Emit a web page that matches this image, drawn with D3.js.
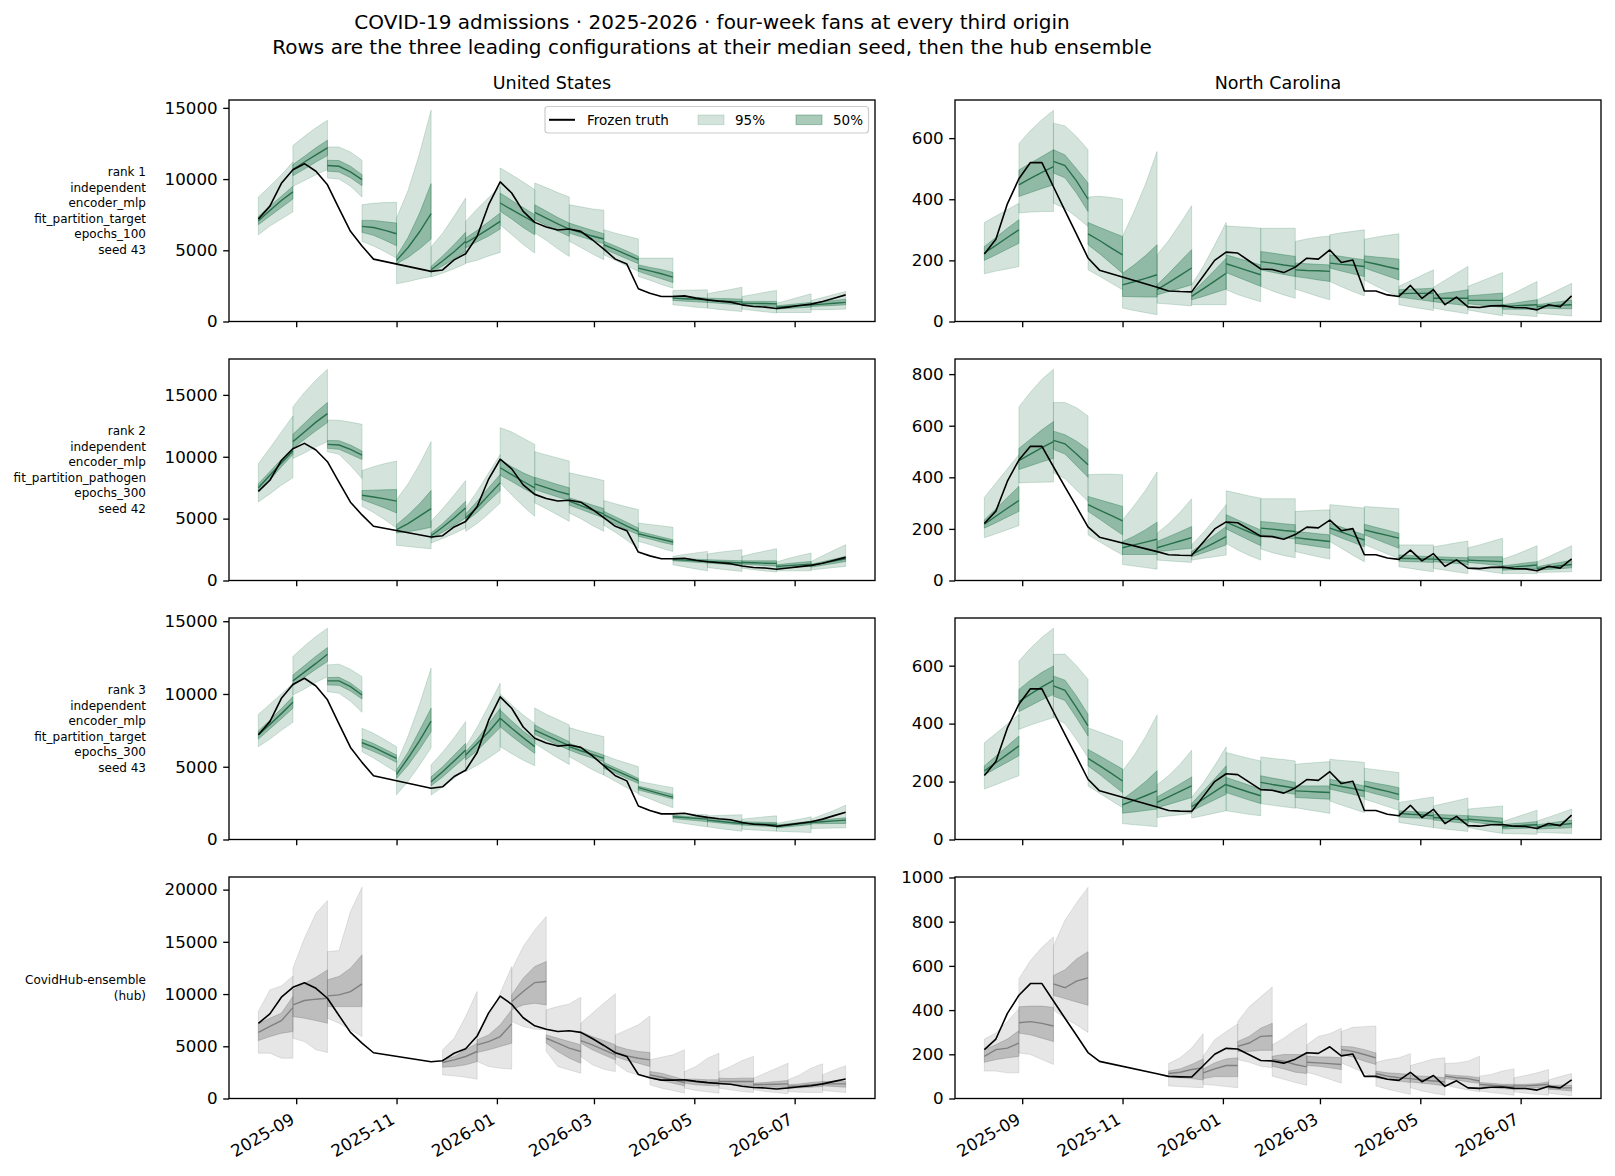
<!DOCTYPE html>
<html><head><meta charset="utf-8">
<script src="https://cdn.jsdelivr.net/npm/d3@7"></script>
<style>body{margin:0;background:#fff} svg text{font-family:"DejaVu Sans",sans-serif}</style>
</head><body><svg id="c" width="1615" height="1176"></svg>
<script>
// ---------- data ----------
const weeks = ["2025-08-09","2025-08-16","2025-08-23","2025-08-30","2025-09-06","2025-09-13","2025-09-20","2025-09-27","2025-10-04","2025-10-11","2025-10-18","2025-10-25","2025-11-01","2025-11-08","2025-11-15","2025-11-22","2025-11-29","2025-12-06","2025-12-13","2025-12-20","2025-12-27","2026-01-03","2026-01-10","2026-01-17","2026-01-24","2026-01-31","2026-02-07","2026-02-14","2026-02-21","2026-02-28","2026-03-07","2026-03-14","2026-03-21","2026-03-28","2026-04-04","2026-04-11","2026-04-18","2026-04-25","2026-05-02","2026-05-09","2026-05-16","2026-05-23","2026-05-30","2026-06-06","2026-06-13","2026-06-20","2026-06-27","2026-07-04","2026-07-11","2026-07-18","2026-07-25","2026-08-01"];
const truthUS = [7200,8100,9700,10650,11080,10550,9600,7950,6330,5300,4380,null,null,null,null,3520,3620,4330,4760,5980,8200,9800,9020,7730,6960,6630,6420,6490,6330,5740,5080,4380,4030,2300,1990,1760,1760,1800,1640,1520,1430,1360,1170,1050,1010,915,1010,1120,1220,1400,1640,1870];
const truthNC = [221,269,385,467,520,520,441,363,286,208,168,null,null,null,null,112,100,98,97,148,200,227,224,198,172,170,160,178,207,204,234,193,201,100,100,87,82,118,76,104,55,80,48,46,51,52,46,45,38,55,48,84];

// each fan: [origin week index, lo95[], lo50[], median[], hi50[], hi95[]] (weekly horizons)
const fansUS1 = [
[0,[6090,6700,7200,7700],[6800,7400,8000,8600],[7080,7800,8500,9100],[7380,8100,8800,9500],[8740,9500,10300,11200]],
[3,[9490,9900,10300,10670],[10240,10700,11200,11650],[10670,11200,11700,12190],[11020,11600,12200,12730],[12350,13000,13600,14130]],
[6,[10080,10000,9500,8740],[10550,10500,10100,9540],[10950,10900,10500,9960],[11320,11300,10900,10310],[12260,12250,11900,11320]],
[9,[5630,5300,4900,4450],[6260,6050,5700,5320],[6680,6600,6400,6160],[7100,7100,7000,6910],[8200,8300,8350,8370]],
[12,[2650,2800,3000,3160],[4060,4500,5100,5790],[4290,5200,6300,7570],[4570,5900,7600,9680],[7270,9200,11800,14840]],
[15,[3120,3400,3700,4060],[3450,3900,4400,4920],[3630,4250,4900,5630],[3870,4600,5400,6260],[5230,6200,7400,8670]],
[18,[4100,4300,4600,4850],[5160,5600,6000,6490],[5510,6000,6500,7030],[5860,6400,7000,7620],[7030,7900,8700,9490]],
[21,[6800,6100,5400,4810],[7740,7200,6600,6090],[8320,7850,7400,6960],[9020,8500,8000,7500],[10780,10300,9800,9260]],
[24,[6210,5700,5100,4570],[7150,6750,6350,5980],[7660,7250,6850,6490],[8200,7750,7300,6910],[9730,9400,9050,8740]],
[27,[5630,5200,4750,4340],[6210,5950,5700,5460],[6490,6250,6000,5790],[6910,6650,6400,6160],[8200,8050,7900,7810]],
[30,[4690,4300,3900,3520],[5090,4750,4400,4060],[5390,5050,4700,4340],[5630,5300,4950,4570],[6450,6200,6000,5790]],
[33,[3160,2900,2600,2340],[3520,3250,3000,2740],[3750,3550,3350,3120],[3980,3800,3650,3450],[4450,4450,4450,4450]],
[36,[1170,1100,1000,940],[1480,1430,1380,1340],[1640,1600,1560,1520],[1800,1750,1700,1640],[2180,2200,2210,2230]],
[39,[940,850,770,700],[1340,1280,1220,1170],[1480,1450,1410,1380],[1640,1620,1600,1570],[1950,2100,2250,2410]],
[42,[870,770,680,590],[1170,1130,1090,1050],[1290,1270,1260,1240],[1410,1410,1410,1410],[1760,1900,2050,2180]],
[45,[630,630,630,630],[870,920,960,1010],[1010,1060,1120,1170],[1100,1180,1260,1340],[1290,1500,1720,1950]],
[48,[820,830,850,870],[1050,1090,1130,1170],[1170,1220,1280,1340],[1290,1380,1480,1570],[1480,1680,1900,2110]]
];
const fansUS2 = [
[0,[6350,7000,7700,8300],[7160,8100,9200,10190],[7490,8500,9500,10460],[7810,8800,9800,10730],[9430,10700,12000,13300]],
[3,[9860,10300,10800,11220],[10680,11400,12100,12760],[11220,12000,12800,13490],[11810,12700,13600,14380],[14030,15200,16200,17080]],
[6,[10400,10200,9300,8240],[10680,10600,10200,9780],[11000,10950,10600,10140],[11320,11300,10950,10460],[12970,12950,12800,12620]],
[9,[6000,5500,4900,4240],[6540,6200,5850,5460],[6890,6750,6600,6410],[7270,7300,7330,7350],[8890,9200,9450,9650]],
[12,[2840,2750,2650,2570],[3840,3950,4100,4300],[4110,4600,5200,5810],[4510,5300,6200,7270],[6540,7800,9400,11220]],
[15,[3030,3400,3800,4240],[3380,3900,4450,5050],[3620,4300,5050,5860],[3840,4600,5500,6410],[4780,5800,6900,8080]],
[18,[3970,4600,5400,6270],[4780,5500,6400,7270],[5050,5900,6900,7890],[5380,6400,7500,8570],[5860,7200,8700,10190]],
[21,[7890,6900,6000,5190],[8510,8000,7450,6950],[9110,8550,8000,7490],[9780,9200,8700,8300],[12350,12000,11500,11000]],
[24,[6270,5800,5300,4780],[7350,7050,6750,6460],[7810,7500,7200,6950],[8350,8050,7750,7490],[10410,10150,9900,9650]],
[27,[5460,5000,4450,3970],[6080,5750,5400,5050],[6410,6050,5700,5380],[6680,6400,6100,5810],[8700,8500,8300,8080]],
[30,[4460,3900,3250,2620],[5000,4550,4100,3700],[5320,4850,4400,3970],[5590,5150,4700,4240],[6460,6200,5950,5730]],
[33,[3160,2900,2600,2350],[3570,3350,3100,2890],[3780,3550,3330,3110],[3970,3750,3520,3300],[4650,4530,4420,4300]],
[36,[1270,1100,930,780],[1590,1530,1470,1410],[1700,1650,1600,1540],[1810,1770,1720,1680],[1950,2100,2230,2350]],
[39,[1050,930,830,730],[1410,1350,1280,1220],[1540,1500,1450,1410],[1680,1650,1620,1590],[2140,2280,2390,2490]],
[42,[1000,870,770,680],[1320,1270,1210,1160],[1460,1430,1400,1380],[1590,1590,1590,1590],[1950,2180,2380,2570]],
[45,[780,780,780,780],[1000,1050,1100,1140],[1140,1200,1260,1320],[1270,1370,1460,1540],[1490,1780,2010,2220]],
[48,[860,950,1050,1140],[1080,1230,1380,1540],[1220,1400,1580,1760],[1320,1520,1730,1950],[1540,2000,2450,2890]]
];
const fansUS3 = [
[0,[6380,6900,7500,8050],[6900,7600,8300,9020],[7180,7900,8650,9430],[7460,8200,9000,9820],[8600,9300,10000,10740]],
[3,[9930,10350,10800,11190],[10580,11150,11700,12230],[10900,11500,12100,12730],[11310,11950,12600,13190],[12570,13300,13950,14520]],
[6,[10160,10050,9500,8740],[10620,10600,10200,9660],[10900,10900,10500,9930],[11130,11150,10750,10160],[12000,12050,11700,11190]],
[9,[6030,5600,5100,4630],[6380,6050,5700,5300],[6650,6350,5950,5570],[6900,6600,6200,5800],[7640,7300,6850,6380]],
[12,[3070,4000,5100,6310],[4200,5100,6200,7410],[4470,5600,6800,8140],[4770,6000,7500,9020],[5230,7100,9300,11770]],
[15,[3050,3600,4200,4890],[3690,4300,5000,5690],[3970,4650,5400,6150],[4310,5000,5800,6610],[5120,6000,7000,8100]],
[18,[4660,5100,5600,6150],[5460,6100,6900,7690],[5800,6600,7400,8330],[6030,6900,7950,9020],[6380,7700,9200,10740]],
[21,[6380,5900,5450,5070],[7750,7100,6500,5920],[8330,7650,7000,6380],[8900,8150,7450,6840],[10000,9250,8550,7980]],
[24,[6610,6100,5600,5160],[7230,6850,6500,6150],[7520,7150,6800,6450],[7870,7450,7100,6720],[9040,8600,8250,7870]],
[27,[5690,5250,4800,4430],[6150,5850,5600,5350],[6380,6100,5850,5570],[6610,6330,6060,5800],[7690,7450,7250,7070]],
[30,[4430,4000,3550,3170],[4890,4550,4200,3850],[5120,4750,4400,4040],[5300,4930,4580,4200],[5800,5500,5250,5000]],
[33,[3100,2800,2480,2180],[3400,3200,3000,2780],[3560,3340,3120,2910],[3670,3480,3290,3100],[4010,3850,3700,3560]],
[36,[1220,1100,980,870],[1450,1370,1300,1220],[1560,1510,1450,1400],[1670,1600,1530,1470],[1790,1760,1730,1700]],
[39,[870,760,660,570],[1220,1140,1060,990],[1330,1250,1170,1100],[1450,1380,1320,1260],[1630,1650,1680,1700]],
[42,[710,660,610,570],[990,950,910,870],[1100,1080,1050,1030],[1220,1200,1180,1170],[1400,1480,1560,1630]],
[45,[570,540,510,480],[800,870,950,1030],[890,980,1080,1170],[990,1080,1170,1260],[1100,1250,1400,1560]],
[48,[760,770,790,800],[1080,1090,1100,1100],[1170,1220,1280,1330],[1260,1340,1420,1490],[1400,1700,2000,2360]]
];
const fansUSHub = [
[0,[4340,4340,3860,3860],[5550,5930,6250,6410],[6320,6900,7450,8700],[7150,7690,8170,9760],[8330,10400,10780,11740]],
[3,[5770,5450,4660,4400],[7850,7690,7460,7210],[8960,9380,9510,9600],[10400,11040,11610,12310],[12470,15340,17740,18950]],
[6,[7690,7210,6570,5930],[8800,8800,8800,8800],[9830,9920,10240,10970],[11360,11680,12470,13750],[14070,14160,17900,20220]],
[16,[2260,2170,2040,1850],[3000,3060,3220,3540],[3450,3700,4020,4500],[3700,4020,4660,5300],[4660,5770,7850,10240]],
[19,[3540,3060,2900,2810],[4400,4660,4980,5300],[5140,5450,5930,7150],[5610,6090,7050,8490],[6250,7850,10080,12630]],
[22,[7370,6890,6640,6570],[8490,8960,9120,8960],[9280,10240,11100,11200],[9920,11520,12630,13110],[12310,14550,16140,17420]],
[25,[4500,3060,2740,2420],[5300,4500,3860,3380],[5770,5300,4820,4500],[6090,5770,5450,5140],[8490,8800,9060,9700]],
[28,[4020,3220,2810,2580],[5300,4660,4180,3700],[5550,5140,4660,4180],[6410,5930,5550,5140],[7210,8170,9120,10020]],
[31,[3380,2580,2260,1950],[4020,3640,3380,3060],[4400,4080,3860,3700],[5040,4720,4500,4400],[6090,6570,7050,7910]],
[34,[1310,990,770,510],[1950,1720,1470,1210],[2260,2040,1790,1530],[2580,2420,2110,1790],[3700,3960,4180,4660]],
[37,[990,770,640,510],[1470,1310,1240,1210],[1690,1630,1560,1530],[1850,1850,1790,1790],[2580,3060,3860,4340]],
[40,[990,830,670,570],[1400,1340,1280,1210],[1630,1630,1630,1630],[1950,1910,1950,1950],[2580,3060,3640,4020]],
[43,[830,670,570,450],[1150,1120,1080,1080],[1310,1340,1370,1400],[1470,1530,1630,1720],[1950,2420,2900,3380]],
[46,[670,610,570,570],[990,1020,1080,1150],[1150,1210,1310,1370],[1310,1400,1530,1630],[1790,2260,2900,3320]],
[49,[770,670,570],[1210,1150,1080],[1400,1400,1400],[1630,1630,1630],[2260,2740,3130]]
];
const fansNC1 = [
[0,[156,165,172,180],[200,218,237,256],[224,249,275,300],[245,275,305,333],[324,345,366,387]],
[3,[355,358,360,360],[409,422,435,447],[447,468,488,507],[496,518,540,562],[582,625,660,691]],
[6,[387,370,342,311],[486,470,420,360],[524,510,460,400],[562,545,500,453],[649,640,605,562]],
[9,[169,148,126,104],[251,222,190,158],[287,265,241,218],[324,308,293,278],[407,410,406,400]],
[12,[44,36,29,22],[82,81,80,80],[120,130,141,153],[158,185,216,251],[278,360,450,556]],
[15,[60,57,54,51],[87,98,109,120],[104,127,151,175],[120,157,196,235],[218,265,320,379]],
[18,[55,55,55,55],[71,82,94,106],[82,107,132,158],[93,130,168,207],[120,180,250,324]],
[21,[104,88,76,65],[160,145,130,115],[189,177,165,153],[218,207,196,185],[313,310,308,305]],
[24,[115,100,87,76],[169,161,154,147],[196,191,185,180],[229,224,218,213],[305,305,305,305]],
[27,[106,94,82,71],[147,142,136,131],[169,167,166,164],[191,189,187,185],[262,270,276,280]],
[30,[131,114,98,84],[175,165,156,147],[191,187,184,180],[218,213,207,202],[284,290,295,300]],
[33,[136,116,98,82],[175,162,149,136],[196,188,179,171],[215,211,208,204],[269,276,282,287]],
[36,[55,48,42,36],[80,75,70,65],[91,92,92,93],[104,106,107,109],[115,133,151,169]],
[39,[44,37,31,25],[65,60,56,51],[76,76,76,76],[87,93,98,104],[112,135,158,180]],
[42,[38,31,25,19],[58,54,50,47],[69,69,69,69],[84,87,90,93],[115,130,145,160]],
[45,[25,22,19,16],[40,40,40,40],[49,51,53,55],[55,60,66,71],[76,93,112,131]],
[48,[27,24,21,18],[43,43,42,42],[49,51,53,55],[55,60,65,70],[71,88,106,125]]
];
const fansNC2 = [
[0,[166,181,197,213],[203,224,246,268],[218,249,280,310],[235,278,322,365],[322,378,433,488]],
[3,[378,380,381,382],[430,445,460,473],[465,490,515,538],[512,548,584,616],[673,730,780,819]],
[6,[417,395,350,306],[508,490,445,400],[543,530,490,449],[579,565,540,508],[690,690,670,638]],
[9,[177,150,124,99],[268,238,207,177],[294,273,252,231],[326,313,300,287],[410,412,412,410]],
[12,[62,56,50,44],[101,101,101,101],[127,138,149,160],[151,172,197,226],[235,290,350,421]],
[15,[79,76,73,70],[112,116,121,125],[127,140,153,166],[151,170,189,209],[183,220,265,317]],
[18,[79,86,92,99],[92,107,122,138],[101,124,147,170],[112,144,176,209],[138,185,237,294]],
[21,[144,118,97,79],[200,178,156,135],[226,207,188,170],[255,235,215,196],[348,338,328,319]],
[24,[122,108,97,88],[177,172,166,161],[203,199,194,190],[229,225,220,216],[317,317,317,317]],
[27,[112,102,92,83],[144,138,131,125],[166,161,156,151],[190,186,181,177],[268,270,272,274]],
[30,[151,125,98,73],[183,165,148,131],[203,188,172,157],[222,207,192,177],[294,290,285,281]],
[33,[140,121,103,86],[177,160,142,125],[196,185,175,164],[218,206,195,183],[287,284,281,278]],
[36,[53,47,40,34],[75,73,72,70],[86,85,84,83],[99,97,94,92],[138,138,138,138]],
[39,[47,40,33,27],[73,69,66,62],[83,80,78,75],[92,91,89,88],[131,138,146,153]],
[42,[47,40,33,27],[70,66,61,57],[79,77,75,73],[92,92,92,92],[127,138,151,164]],
[45,[27,27,27,27],[40,42,45,47],[49,53,56,60],[57,62,68,73],[83,98,116,135]],
[48,[31,32,33,34],[40,43,46,49],[47,52,57,62],[53,62,70,79],[73,92,113,135]]
];
const fansNC3 = [
[0,[174,189,205,220],[223,245,267,289],[237,265,294,323],[254,288,323,357],[334,366,399,432]],
[3,[380,395,408,421],[441,462,482,501],[476,502,527,549],[518,550,577,599],[616,660,698,729]],
[6,[421,400,345,283],[495,480,420,357],[530,515,455,392],[564,550,495,432],[639,640,600,553]],
[9,[185,160,135,110],[254,225,193,162],[280,255,229,202],[311,289,266,243],[386,371,356,340]],
[12,[55,51,48,44],[91,95,100,105],[120,135,151,168],[139,168,200,237],[237,290,355,430]],
[15,[76,81,85,90],[110,121,133,145],[128,147,166,185],[147,169,192,216],[189,220,260,308]],
[18,[74,82,91,99],[99,118,137,156],[113,139,165,191],[124,167,210,254],[145,195,255,320]],
[21,[99,93,87,82],[162,149,136,124],[189,176,163,151],[214,201,187,174],[300,290,280,271]],
[24,[124,118,113,108],[174,168,162,156],[197,190,184,177],[220,212,205,197],[285,280,276,271]],
[27,[110,103,97,90],[145,143,141,139],[168,166,164,162],[185,185,185,185],[260,263,266,269]],
[30,[133,119,106,93],[174,165,156,147],[191,183,176,168],[208,200,193,185],[277,273,270,266]],
[33,[139,127,114,101],[168,157,147,136],[185,175,166,156],[202,194,187,179],[246,241,236,231]],
[36,[59,53,47,41],[78,75,73,70],[90,87,85,82],[99,97,95,93],[128,134,141,147]],
[39,[41,36,32,28],[67,63,59,55],[76,73,70,67],[87,85,84,82],[116,125,134,143]],
[42,[41,34,27,21],[62,57,52,47],[70,67,63,59],[82,79,77,74],[105,109,112,116]],
[45,[21,20,19,18],[36,38,39,41],[44,46,49,51],[51,55,58,62],[62,75,88,101]],
[48,[24,23,22,21],[36,38,39,41],[44,48,51,55],[51,56,62,67],[64,77,91,105]]
];
const fansNCHub = [
[0,[124,124,116,116],[164,176,184,191],[191,221,228,251],[221,243,269,307],[269,296,348,407]],
[3,[206,199,176,154],[296,288,273,258],[343,348,340,328],[415,418,418,412],[542,624,684,731]],
[6,[400,363,333,299],[467,452,437,422],[519,501,531,546],[557,582,631,664],[691,806,885,955]],
[16,[57,54,51,49],[101,94,90,84],[113,119,131,139],[124,134,154,179],[158,184,228,293]],
[19,[64,60,54,49],[90,99,99,99],[116,134,149,149],[134,161,179,184],[191,266,303,337]],
[22,[176,164,146,139],[213,213,218,218],[236,251,281,284],[258,281,318,340],[348,415,460,504]],
[25,[101,87,72,60],[146,134,119,113],[176,169,154,143],[191,199,199,199],[243,273,310,340]],
[28,[119,104,87,69],[149,146,139,131],[164,161,158,154],[191,188,188,184],[243,281,293,318]],
[31,[161,139,116,94],[199,188,169,154],[221,213,199,184],[236,233,221,206],[303,322,325,328]],
[34,[57,42,30,19],[94,87,79,72],[113,101,94,90],[124,116,113,109],[164,176,184,203]],
[37,[49,34,24,15],[75,69,64,57],[90,84,79,75],[104,101,99,94],[149,164,179,184]],
[40,[60,49,39,30],[90,84,75,69],[101,94,90,79],[109,104,101,94],[158,161,169,191]],
[43,[34,27,21,15],[57,49,45,42],[64,60,57,54],[72,69,64,64],[101,109,124,134]],
[46,[30,24,19,15],[48,46,48,49],[57,57,60,64],[64,64,67,75],[94,104,116,131]],
[49,[24,18,12],[42,39,34],[49,48,48],[60,60,60],[84,99,113]]
];

const titleLines = ["COVID-19 admissions · 2025-2026 · four-week fans at every third origin",
  "Rows are the three leading configurations at their median seed, then the hub ensemble"];
const columnTitles = ["United States","North Carolina"];
const rowLabels = [
  ["rank 1","independent","encoder_mlp","fit_partition_target","epochs_100","seed 43"],
  ["rank 2","independent","encoder_mlp","fit_partition_pathogen","epochs_300","seed 42"],
  ["rank 3","independent","encoder_mlp","fit_partition_target","epochs_300","seed 43"],
  ["CovidHub-ensemble","(hub)"]
];
const legendLabels = ["Frozen truth","95%","50%"];

// ---------- layout ----------
const svg = d3.select("#c");
const colX = [[229,875],[955,1601]];
const rowY = [[100,321.5],[359,580.5],[618,839.5],[877,1098.5]];
const GREEN = "#2a7a52", GREEN_LINE = "#286f4c", GRAY = "#808080";
const parse = d3.utcParse("%Y-%m-%d");
const dates = weeks.map(parse);
const truthSets = [truthUS, truthNC];
const fanSets = [[fansUS1,fansUS2,fansUS3,fansUSHub],[fansNC1,fansNC2,fansNC3,fansNCHub]];

svg.append("rect").attr("width",1615).attr("height",1176).attr("fill","#fff");

titleLines.forEach((t,i)=>svg.append("text").attr("x",712).attr("y",29+i*24.5)
  .attr("text-anchor","middle").attr("font-size",20).text(t));

function drawPanel(r,c){
  const [x0,x1]=colX[c],[y0,y1]=rowY[r];
  const fans=fanSets[c][r], truth=truthSets[c];
  const hub = r===3;
  const base = hub?GRAY:GREEN, medCol = hub?GRAY:GREEN_LINE;
  const ext=d3.extent(dates), m=(ext[1]-ext[0])*0.05;
  const x=d3.scaleUtc().domain([new Date(+ext[0]-m),new Date(+ext[1]+m)]).range([x0,x1]);
  const vals=truth.filter(v=>v!=null);
  fans.forEach(f=>f.slice(1).forEach(a=>vals.push(...a)));
  const vmax=d3.max(vals), vmin=d3.min(vals);
  const y=d3.scaleLinear().domain([0,vmax+0.05*(vmax-vmin)]).range([y1,y0]);
  const g=svg.append("g");
  const cid=`clip${r}${c}`;
  g.append("clipPath").attr("id",cid).append("rect").attr("x",x0).attr("y",y0).attr("width",x1-x0).attr("height",y1-y0);
  const plot=g.append("g").attr("clip-path",`url(#${cid})`);
  const area=d3.area().x(d=>x(d.t)).y0(d=>y(d.lo)).y1(d=>y(d.hi));
  const line=d3.line().x(d=>x(d.t)).y(d=>y(d.v));
  fans.forEach(f=>{
    const o=f[0], [lo95,lo50,med,hi50,hi95]=f.slice(1);
    const p95=lo95.map((v,h)=>({t:dates[o+h],lo:v,hi:hi95[h]}));
    const p50=lo50.map((v,h)=>({t:dates[o+h],lo:v,hi:hi50[h]}));
    const pm=med.map((v,h)=>({t:dates[o+h],v}));
    plot.append("path").attr("d",area(p95)).attr("fill",base).attr("fill-opacity",0.2)
      .attr("stroke",base).attr("stroke-opacity",0.2).attr("stroke-width",1);
    plot.append("path").attr("d",area(p50)).attr("fill",base).attr("fill-opacity",0.4)
      .attr("stroke",base).attr("stroke-opacity",0.4).attr("stroke-width",1);
    plot.append("path").attr("d",line(pm)).attr("fill","none").attr("stroke",medCol).attr("stroke-width",1.4);
  });
  const tp=truth.map((v,i)=>({t:dates[i],v})).filter(d=>d.v!=null);
  plot.append("path").attr("d",line(tp)).attr("fill","none").attr("stroke","#000").attr("stroke-width",1.6)
    .attr("stroke-linejoin","round");
  // axes
  const ya=g.append("g").attr("transform",`translate(${x0},0)`)
    .call(d3.axisLeft(y).ticks(4).tickFormat(d3.format("d")).tickSize(5.8).tickPadding(5.5));
  const xa=g.append("g").attr("transform",`translate(0,${y1})`)
    .call(d3.axisBottom(x).ticks(d3.utcMonth.every(2)).tickFormat(r===3?d3.utcFormat("%Y-%m"):()=>"").tickSize(5.8).tickPadding(5.5));
  [ya,xa].forEach(a=>{a.select(".domain").remove();
    a.selectAll("line").attr("stroke","#000").attr("stroke-width",1.33);
    a.selectAll("text").attr("font-family","DejaVu Sans").attr("font-size",16.7).attr("fill","#000");});
  if(r===3){
    xa.selectAll("text").attr("text-anchor","end").attr("x",0).attr("y",0).attr("dy","0.35em")
      .attr("transform","translate(-4,19) rotate(-30)");
  }
  g.append("rect").attr("x",x0).attr("y",y0).attr("width",x1-x0).attr("height",y1-y0)
    .attr("fill","none").attr("stroke","#000").attr("stroke-width",1.33);
  if(r===0){
    svg.append("text").attr("x",(x0+x1)/2).attr("y",89).attr("text-anchor","middle")
      .attr("font-size",17.5).text(columnTitles[c]);
  }
  if(c===0){
    const lines=rowLabels[r], lh=15.6, cy=(y0+y1)/2;
    lines.forEach((t,i)=>svg.append("text").attr("x",146).attr("y",cy+(i-(lines.length-1)/2)*lh)
      .attr("dy","0.35em").attr("text-anchor","end").attr("font-size",12).text(t));
  }
  if(r===0&&c===0){
    const lg=svg.append("g");
    lg.append("rect").attr("x",545).attr("y",106.5).attr("width",323.5).attr("height",26.5).attr("rx",3)
      .attr("fill","#fff").attr("fill-opacity",0.8).attr("stroke","#cccccc").attr("stroke-width",1.2);
    const cy=119.8;
    lg.append("line").attr("x1",549).attr("x2",575).attr("y1",cy).attr("y2",cy).attr("stroke","#000").attr("stroke-width",2);
    lg.append("text").attr("x",587).attr("y",cy).attr("dy","0.35em").attr("font-size",13.5).text(legendLabels[0]);
    [[698,0.2,legendLabels[1],735],[796,0.4,legendLabels[2],833]].forEach(([px,op,lab,tx])=>{
      lg.append("rect").attr("x",px).attr("y",cy-4.8).attr("width",26).attr("height",9.6)
        .attr("fill",GREEN).attr("fill-opacity",op).attr("stroke",GREEN).attr("stroke-opacity",op);
      if(op===0.4){}
      lg.append("text").attr("x",tx).attr("y",cy).attr("dy","0.35em").attr("font-size",13.5).text(lab);
    });
  }
}
for(let r=0;r<4;r++) for(let c=0;c<2;c++) drawPanel(r,c);
</script></body></html>
